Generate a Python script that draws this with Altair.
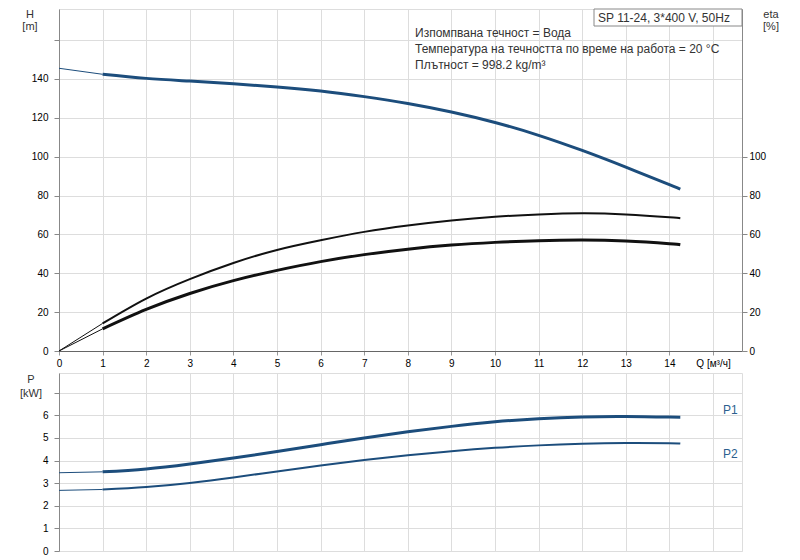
import altair as alt
import pandas as pd

# ---- data ----
Q = [0, 1, 2, 3, 4, 5, 6, 7, 8, 9, 10, 11, 12, 13, 14, 14.25]
H = [145.5, 142.4, 140.3, 138.9, 137.5, 135.9, 133.8, 130.9, 127.4, 123.0, 117.6, 111.0, 103.2, 94.6, 85.6, 83.3]
ETA_TOTAL = [0, 14.2, 27.0, 37.0, 45.3, 52.0, 57.0, 61.3, 64.6, 67.2, 69.1, 70.3, 70.9, 70.3, 68.8, 68.3]
ETA_PUMP = [0, 11.4, 21.4, 29.6, 36.2, 41.5, 46.0, 49.6, 52.4, 54.5, 55.9, 56.8, 57.1, 56.6, 55.2, 54.7]
P1 = [3.46, 3.50, 3.63, 3.85, 4.11, 4.40, 4.70, 5.00, 5.27, 5.51, 5.71, 5.85, 5.93, 5.95, 5.92, 5.91]
P2 = [2.68, 2.72, 2.83, 3.01, 3.25, 3.52, 3.78, 4.02, 4.23, 4.41, 4.56, 4.67, 4.74, 4.77, 4.76, 4.75]

X_TICKS = list(range(0, 16))
H_TICKS = list(range(0, 161, 20))
ETA_TICKS = list(range(0, 101, 20))
P_TICKS = list(range(0, 8))

INFO_LINES = ["Изпомпвана течност = Вода",
              "Температура на течността по време на работа = 20 °C",
              "Плътност = 998.2 kg/m³"]
BOX_TEXT = "SP 11-24, 3*400 V, 50Hz"

df = pd.DataFrame({"Q": Q, "H": H, "E1": ETA_TOTAL, "E2": ETA_PUMP, "P1": P1, "P2": P2})
thin = df.iloc[:2]
thick = df.iloc[1:]

BLUE = "#1c4d7c"
FONT = "Liberation Sans"
W = 683
H_TOP = 342
H_BOT = 178
XDOM = [0, 15.665]
INTERP = "natural"

x_axis_top = alt.Axis(values=X_TICKS, grid=True, title=None, tickSize=4, labelPadding=3,
                      labelExpr="datum.value == 15 ? 'Q [м³/ч]' : datum.label",
                      tickColor="#999", domainColor="#666", labelFlush=False)
x_enc = alt.X("Q:Q", scale=alt.Scale(domain=XDOM, nice=False, zero=False), axis=x_axis_top)

y_left = alt.Y("H:Q", scale=alt.Scale(domain=[0, 176], nice=False),
               axis=alt.Axis(values=H_TICKS, title=None, grid=True, tickSize=5, labelPadding=6,
                             labelExpr="datum.value > 140 ? '' : datum.label"))


def txt(s, x, y, size=11, color="#333", align="left", baseline="top"):
    return alt.Chart(pd.DataFrame({"t": [s]})).mark_text(
        align=align, baseline=baseline, font=FONT, fontSize=size, color=color
    ).encode(x=alt.value(x), y=alt.value(y), text="t:N")


h_thin = alt.Chart(thin).mark_line(color=BLUE, strokeWidth=1, interpolate=INTERP).encode(x=x_enc, y=y_left)
h_thick = alt.Chart(thick).mark_line(color=BLUE, strokeWidth=3, interpolate=INTERP).encode(x=x_enc, y=y_left)

anchor = alt.Chart(pd.DataFrame({"a": [0]})).mark_rect(opacity=0).encode(
    x=alt.value(-50), x2=alt.value(-49), y=alt.value(100), y2=alt.value(101))

box = alt.Chart(pd.DataFrame({"a": [0]})).mark_rect(fill="white", stroke="#888", strokeWidth=1).encode(
    x=alt.value(535), x2=alt.value(683), y=alt.value(0), y2=alt.value(17))

left_layers = [h_thin, h_thick, anchor, box,
               txt(BOX_TEXT, 539, 9, size=12, baseline="middle"),
               txt(INFO_LINES[0], 356, 24, size=12, baseline="middle"),
               txt(INFO_LINES[1], 356, 40, size=12, baseline="middle"),
               txt(INFO_LINES[2], 356, 55.5, size=12, baseline="middle"),
               txt("H", -29, 0, align="center"),
               txt("[m]", -29, 12, align="center"),
               txt("eta", 712, 0, align="center"),
               txt("[%]", 712, 12, align="center")]
left = alt.layer(*left_layers)

y_right = alt.Y("v:Q", scale=alt.Scale(domain=[0, 176], nice=False),
                axis=alt.Axis(values=ETA_TICKS, title=None, grid=False, orient="right",
                              tickSize=5, labelPadding=2))

def eta_line(data, field, width):
    return alt.Chart(data).transform_calculate(v=f"datum.{field}").mark_line(
        color="#111", strokeWidth=width, interpolate=INTERP).encode(x=x_enc, y=y_right)

right = alt.layer(eta_line(thin, "E1", 1), eta_line(thick, "E1", 2),
                  eta_line(thin, "E2", 1), eta_line(thick, "E2", 3))

top = alt.layer(left, right).resolve_scale(y="independent").properties(width=W, height=H_TOP)

# ---- bottom panel ----
x_axis_bot = alt.Axis(values=X_TICKS, grid=True, title=None, labels=False, ticks=False, domain=False)
x_enc_b = alt.X("Q:Q", scale=alt.Scale(domain=XDOM, nice=False, zero=False), axis=x_axis_bot)
y_p = alt.Y("p:Q", scale=alt.Scale(domain=[0, 7.87], nice=False),
            axis=alt.Axis(values=P_TICKS, title=None, grid=True, tickSize=5, labelPadding=6,
                          labelExpr="datum.value > 6 ? '' : datum.label"))

def p_line(data, field, width):
    return alt.Chart(data).transform_calculate(p=f"datum.{field}").mark_line(
        color=BLUE, strokeWidth=width, interpolate=INTERP).encode(x=x_enc_b, y=y_p)

bottom = alt.layer(
    p_line(thin, "P1", 1), p_line(thick, "P1", 3),
    p_line(thin, "P2", 1), p_line(thick, "P2", 2),
    txt("P1", 664, 37, size=12, color="#2d5f8f", baseline="middle"),
    txt("P2", 664, 81, size=12, color="#2d5f8f", baseline="middle"),
    txt("P", -28, 1, align="center"),
    txt("[kW]", -28, 15, align="center"),
).properties(width=W, height=H_BOT)

chart = alt.vconcat(top, bottom, spacing=22, bounds="flush").properties(
    padding=0
).configure_view(stroke="#999", strokeWidth=1).configure_axis(
    labelFont=FONT, labelFontSize=11, labelColor="#333", gridColor="#dadada",
    domainColor="#666", tickColor="#666", domainWidth=1.5
).configure(font=FONT)

chart.save("out.html", embed_options={"renderer": "svg", "actions": False})
